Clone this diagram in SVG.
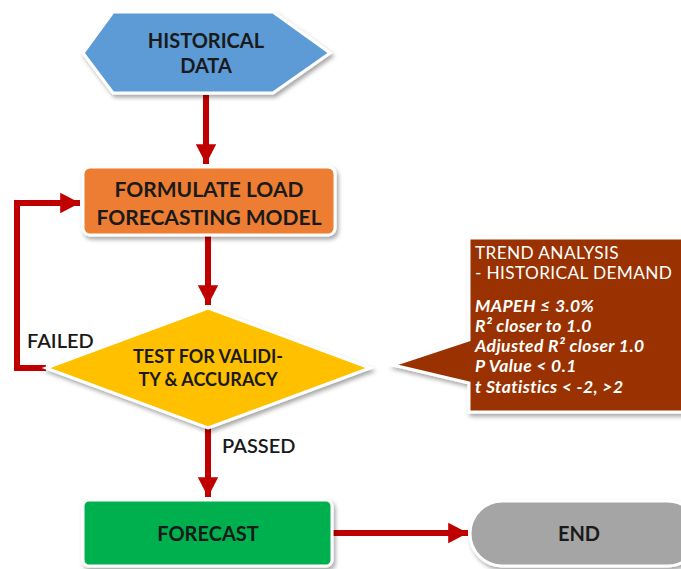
<svg xmlns="http://www.w3.org/2000/svg" width="681" height="569" viewBox="0 0 681 569">
<defs>
<filter id="sh" x="-10%" y="-10%" width="125%" height="130%">
<feDropShadow dx="2" dy="3" stdDeviation="2" flood-color="#000" flood-opacity="0.35"/>
</filter>
<marker id="ah" markerWidth="4" markerHeight="4" refX="3.3" refY="2" orient="auto" markerUnits="strokeWidth" viewBox="0 0 4 4">
<path d="M0,0.3 L3.3,2 L0,3.7 Z" fill="#C00000"/>
</marker>
<style>
.shape{stroke:#fff;stroke-width:3;filter:url(#sh)}
.lbl{font-family:Lato,"Liberation Sans",sans-serif;font-weight:bold;fill:#1a1a1a;text-anchor:middle}
.edge{font-family:Lato,"Liberation Sans",sans-serif;font-weight:600;fill:#1a1a1a;font-size:20px}
.con{fill:none;stroke:#C00000;stroke-width:6;marker-end:url(#ah)}
.ct{font-family:Lato,"Liberation Sans",sans-serif;fill:#fff;font-size:17.3px;letter-spacing:0.35px}
.ci{font-family:Lato,"Liberation Sans",sans-serif;fill:#fff;font-size:17.5px;font-weight:bold;font-style:italic;letter-spacing:0.4px}
</style>
</defs>
<rect width="681" height="569" fill="#fff"/>
<g id="connectors">
<path class="con" d="M206,95 V164"/>
<path class="con" d="M208,235 V305"/>
<path class="con" d="M208,428 V497"/>
<path class="con" d="M333,533 H468"/>
<path class="con" d="M46,368 H17 V203 H80"/>
</g>
<g id="historical-data">
<polygon class="shape" points="83,53 113,12 273,12 330,53 273,93 113,93" fill="#5B9BD5"/>
<text class="lbl" x="206" y="48" font-size="20">HISTORICAL</text>
<text class="lbl" x="206" y="73" font-size="20">DATA</text>
</g>
<g id="formulate-model">
<rect class="shape" x="83" y="167" width="252" height="68" rx="7" fill="#ED7D31"/>
<text class="lbl" x="209" y="197" font-size="21">FORMULATE LOAD</text>
<text class="lbl" x="209" y="225" font-size="21">FORECASTING MODEL</text>
</g>
<g id="test-validity">
<polygon class="shape" points="208,308 370,368 208,428 46,368" fill="#FFC000"/>
<text class="lbl" x="208" y="363" font-size="18">TEST FOR VALIDI-</text>
<text class="lbl" x="208" y="386" font-size="18">TY &amp; ACCURACY</text>
</g>
<g id="forecast">
<rect class="shape" x="83" y="500" width="249" height="66" rx="6" fill="#00B050"/>
<text class="lbl" x="208" y="541" font-size="20">FORECAST</text>
</g>
<g id="end">
<rect class="shape" x="470" y="501" width="230" height="65" rx="32.5" fill="#A5A5A5"/>
<text class="lbl" x="579" y="541" font-size="20">END</text>
</g>
<g id="criteria-callout">
<path class="shape" d="M469,238 H700 V412 H469 V383 L393,365 L469,340 Z" fill="#993300"/>
<text class="ct" x="475" y="259">TREND ANALYSIS</text>
<text class="ct" x="475" y="279">- HISTORICAL DEMAND</text>
<text class="ci" x="475" y="312">MAPEH ≤ 3.0%</text>
<text class="ci" x="475" y="332">R² closer to 1.0</text>
<text class="ci" x="475" y="352">Adjusted R² closer 1.0</text>
<text class="ci" x="475" y="372">P Value &lt; 0.1</text>
<text class="ci" x="475" y="393">t Statistics &lt; -2, &gt;2</text>
</g>
<g id="edge-labels">
<text class="edge" x="27" y="348">FAILED</text>
<text class="edge" x="222" y="453">PASSED</text>
</g>
</svg>
